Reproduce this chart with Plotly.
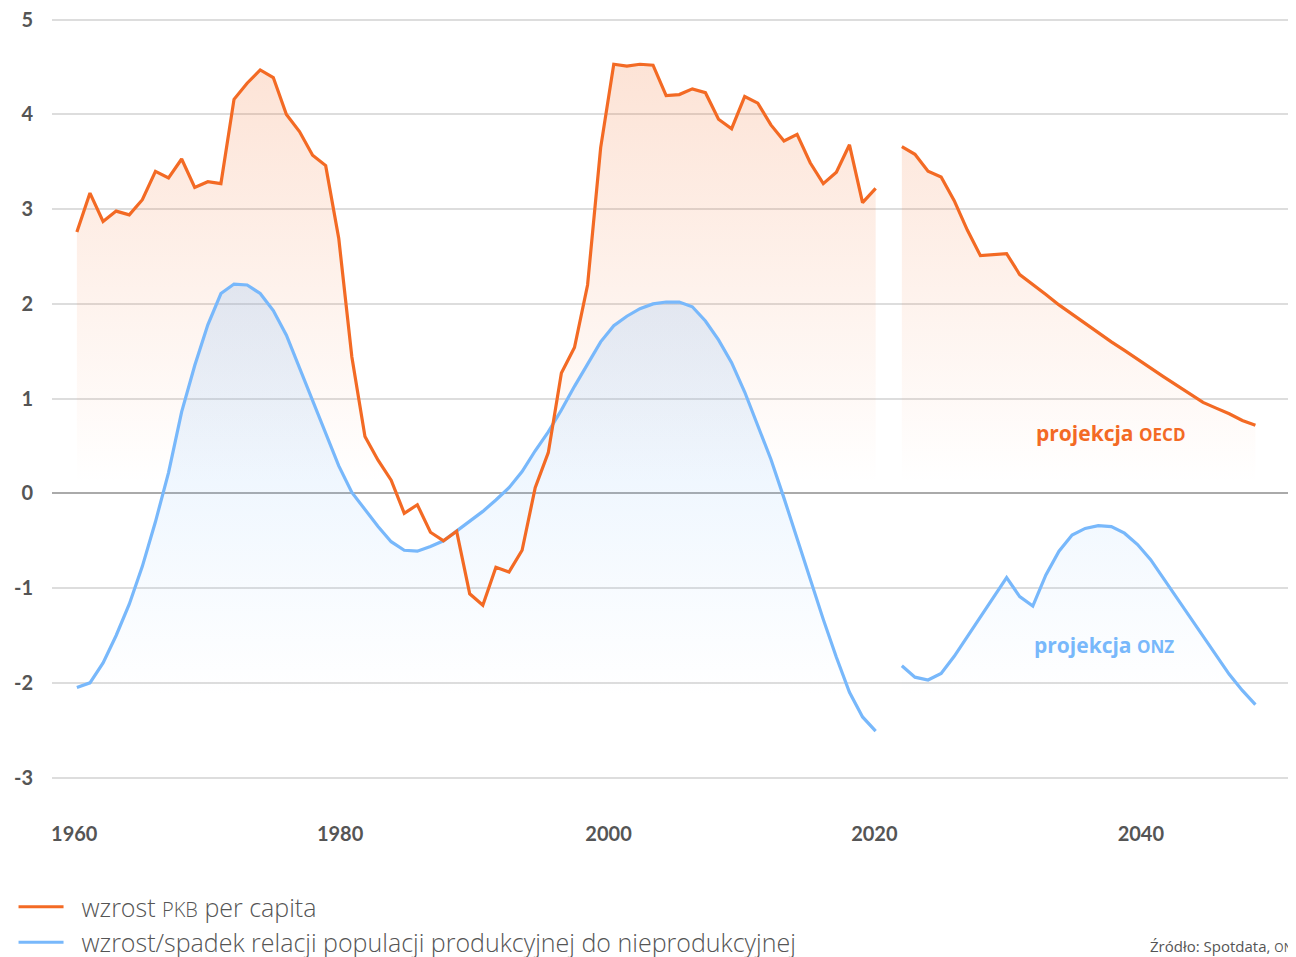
import plotly.graph_objects as go

# ---------------- data ----------------
years_hist = list(range(1960, 2022))
years_proj = list(range(2023, 2051))

gdp_hist = [2.76, 3.17, 2.87, 2.98, 2.94, 3.10, 3.40, 3.33, 3.53, 3.23,
            3.29, 3.27, 4.16, 4.33, 4.47, 4.39, 4.00, 3.82, 3.57, 3.46,
            2.69, 1.44, 0.60, 0.35, 0.14, -0.21, -0.12, -0.41, -0.50, -0.40,
            -1.06, -1.18, -0.78, -0.83, -0.60, 0.06, 0.43, 1.27, 1.54, 2.20,
            3.65, 4.53, 4.51, 4.53, 4.52, 4.20, 4.21, 4.27, 4.23, 3.95,
            3.85, 4.19, 4.12, 3.89, 3.72, 3.79, 3.49, 3.27, 3.39, 3.68,
            3.07, 3.22]
gdp_proj = [3.66, 3.58, 3.40, 3.34, 3.09, 2.78, 2.51, 2.52, 2.53, 2.31,
            2.21, 2.10, 1.99, 1.89, 1.79, 1.69, 1.60, 1.51, 1.42, 1.32,
            1.23, 1.14, 1.05, 0.96, 0.90, 0.84, 0.77, 0.72]

pop_hist = [-2.05, -2.00, -1.79, -1.50, -1.17, -0.77, -0.30, 0.22, 0.86, 1.35,
            1.78, 2.11, 2.21, 2.20, 2.11, 1.93, 1.67, 1.32, 0.98, 0.63,
            0.29, 0.01, -0.17, -0.35, -0.51, -0.60, -0.61, -0.56, -0.50, -0.40,
            -0.29, -0.19, -0.07, 0.06, 0.23, 0.45, 0.65, 0.88, 1.13, 1.37,
            1.60, 1.77, 1.87, 1.95, 2.00, 2.02, 2.02, 1.97, 1.82, 1.62,
            1.38, 1.07, 0.72, 0.36, -0.05, -0.48, -0.90, -1.33, -1.73, -2.10,
            -2.36, -2.51]
pop_proj = [-1.82, -1.94, -1.97, -1.90, -1.72, -1.51, -1.31, -1.09, -0.89, -1.09,
            -1.19, -0.86, -0.61, -0.44, -0.37, -0.34, -0.35, -0.42, -0.54, -0.70,
            -0.90, -1.10, -1.30, -1.50, -1.71, -1.91, -2.08, -2.23]

pop_fill_floor = -2.6

x_tick_labels = ["1960", "1980", "2000", "2020", "2040"]
x_tick_pos = [1959.8, 1980.1, 2000.6, 2020.9, 2041.25]
y_ticks = [-3, -2, -1, 0, 1, 2, 3, 4, 5]
y_tick_labels = ["-3", "-2", "-1", "0", "1", "2", "3", "4", "5"]

series_names = ["\u00a0\u00a0wzrost <span style='font-size:20px'>PKB</span> per capita",
                "\u00a0\u00a0wzrost/spadek relacji populacji produkcyjnej do nieprodukcyjnej"]

ORANGE = "#f36a24"
BLUE = "#78b8fb"
TEXT = "#555555"
FONT = "Lato, 'Open Sans', sans-serif"
FONT2 = "'Open Sans', Lato, sans-serif"

fig = go.Figure()

orange_grad = dict(type="vertical", start=0.1, stop=4.6,
                   colorscale=[[0, "rgba(243,106,36,0)"], [1, "rgba(243,106,36,0.19)"]])
blue_grad = dict(type="vertical", start=-2.15, stop=2.3,
                 colorscale=[[0, "rgba(120,184,251,0)"], [1, "rgba(120,184,251,0.22)"]])

# orange fills
for xs, ys in [(years_hist, gdp_hist), (years_proj, gdp_proj)]:
    fig.add_trace(go.Scatter(x=xs, y=ys, mode="lines", line=dict(width=0),
                             fill="tozeroy", fillgradient=orange_grad,
                             showlegend=False, hoverinfo="skip"))

# blue fills (to a floor)
for xs, ys in [(years_hist, pop_hist), (years_proj, pop_proj)]:
    fig.add_trace(go.Scatter(x=xs, y=[pop_fill_floor] * len(xs), mode="lines",
                             line=dict(width=0), showlegend=False, hoverinfo="skip"))
    fig.add_trace(go.Scatter(x=xs, y=ys, mode="lines", line=dict(width=0),
                             fill="tonexty", fillgradient=blue_grad,
                             showlegend=False, hoverinfo="skip"))

# lines
for i, (xs, ys) in enumerate([(years_hist, pop_hist), (years_proj, pop_proj)]):
    fig.add_trace(go.Scatter(x=xs, y=ys, mode="lines", name=series_names[1],
                             line=dict(color=BLUE, width=3.2),
                             legendgroup="b", legendrank=2, showlegend=(i == 0)))
for i, (xs, ys) in enumerate([(years_hist, gdp_hist), (years_proj, gdp_proj)]):
    fig.add_trace(go.Scatter(x=xs, y=ys, mode="lines", name=series_names[0],
                             line=dict(color=ORANGE, width=3.2),
                             legendgroup="a", legendrank=1, showlegend=(i == 0)))

fig.add_annotation(x=2038.9, y=0.64, xref="x", yref="y",
                   text="projekcja <span style='font-size:17px'>OECD</span>",
                   showarrow=False, font=dict(family=FONT2, size=21, color=ORANGE, weight=700))
fig.add_annotation(x=2038.4, y=-1.6, xref="x", yref="y",
                   text="projekcja <span style='font-size:17px'>ONZ</span>",
                   showarrow=False, font=dict(family=FONT2, size=21, color=BLUE, weight=700))
fig.add_annotation(x=0.881, y=-0.177, xref="paper", yref="paper", xanchor="left", yanchor="middle",
                   text="Źródło: Spotdata, <span style='font-size:12px'>ONZ</span>",
                   showarrow=False, font=dict(family=FONT2, size=15, color=TEXT))

fig.update_layout(
    width=1288, height=949,
    margin=dict(l=44, r=0, t=7, b=151, autoexpand=False),
    paper_bgcolor="white", plot_bgcolor="white",
    font=dict(family=FONT, color=TEXT),
    showlegend=True,
    legend=dict(xref="container", yref="container", x=0.0043, y=1 - 876 / 949,
                xanchor="left", yanchor="top", traceorder="normal",
                tracegroupgap=1, itemwidth=45,
                font=dict(family=FONT2, size=25, color=TEXT, weight=300),
                bgcolor="rgba(0,0,0,0)"),
    xaxis=dict(range=[1958.1, 2053.1], showgrid=False, zeroline=False, showline=False,
               tickvals=x_tick_pos, ticktext=x_tick_labels, ticks="",
               ticklabelstandoff=14,
               tickfont=dict(family=FONT, size=20, color=TEXT, weight=700)),
    yaxis=dict(range=[-3.3, 5.05], tickvals=y_ticks, ticktext=y_tick_labels, ticks="",
               showgrid=True, gridcolor="#dddddd", gridwidth=2,
               zeroline=True, zerolinecolor="#aaaaaa", zerolinewidth=2,
               showline=False, ticklabelstandoff=18, ticklabeloverflow="allow",
               tickfont=dict(family=FONT, size=20, color=TEXT, weight=700)),
)

fig.write_html("out.html")
